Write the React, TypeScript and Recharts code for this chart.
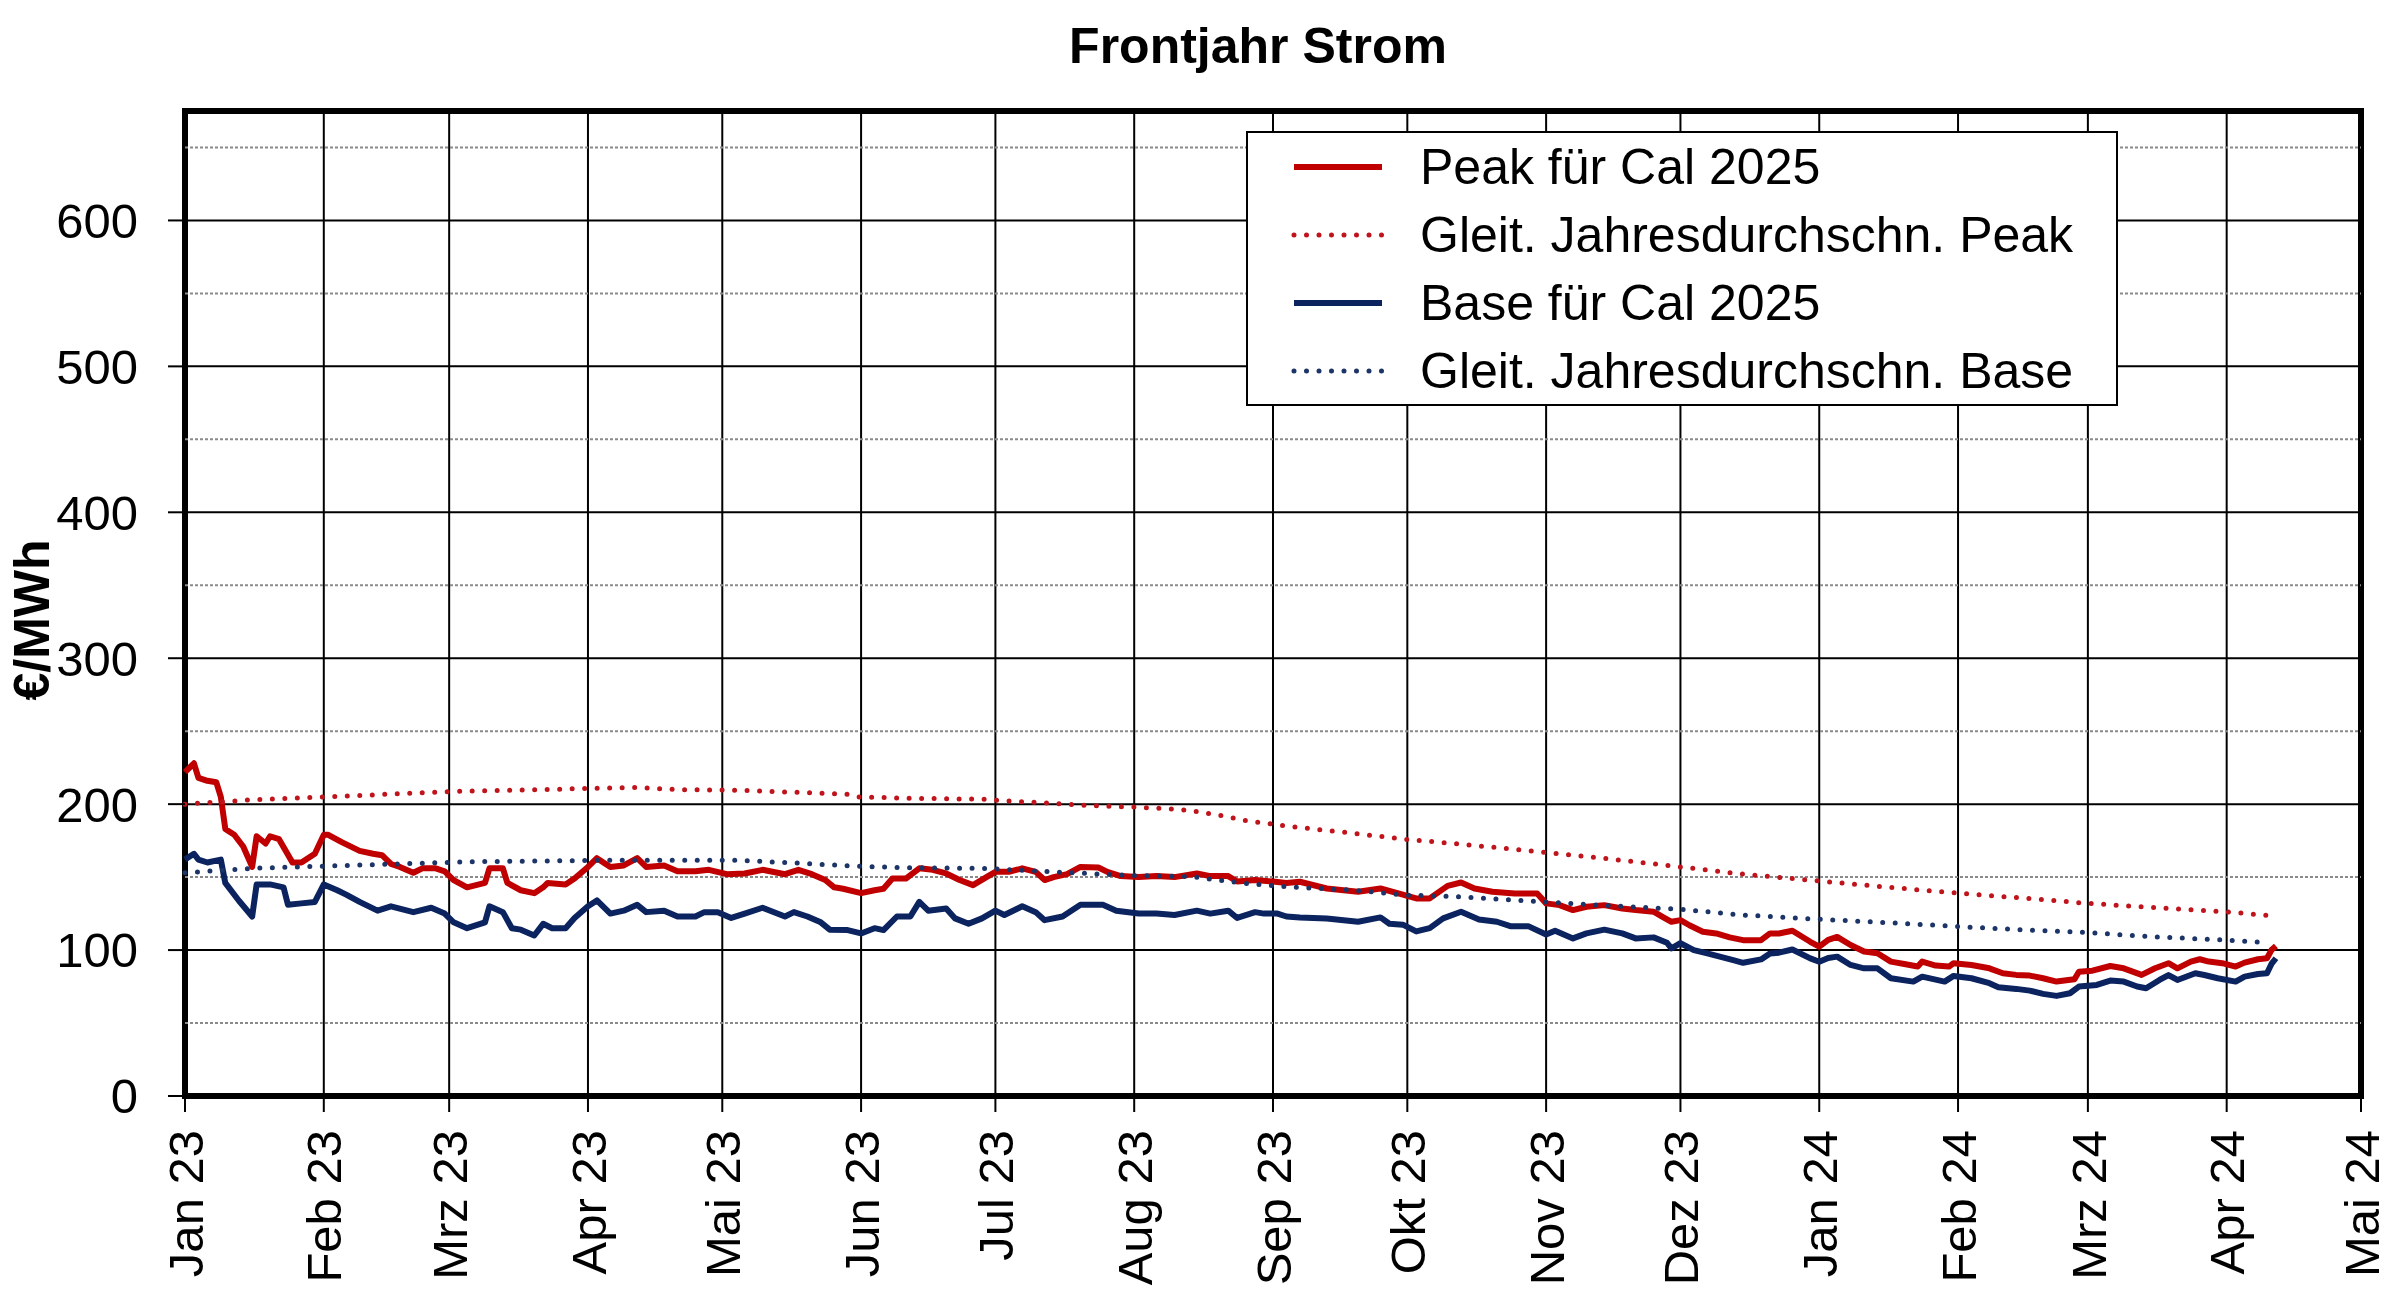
import React from 'react';
import {
  LineChart, Line, XAxis, YAxis, CartesianGrid, Legend, ReferenceLine, ReferenceArea
} from 'recharts';

// days counted from 1 Jan 2023
const MONTH_TICKS = [0, 31, 59, 90, 120, 151, 181, 212, 243, 273, 304, 334, 365, 396, 425, 456, 486];
const MONTH_LABELS = [
  'Jan 23', 'Feb 23', 'Mrz 23', 'Apr 23', 'Mai 23', 'Jun 23', 'Jul 23', 'Aug 23',
  'Sep 23', 'Okt 23', 'Nov 23', 'Dez 23', 'Jan 24', 'Feb 24', 'Mrz 24', 'Apr 24', 'Mai 24'
];
const Y_TICKS = [0, 100, 200, 300, 400, 500, 600];
const Y_MINOR = [50, 150, 250, 350, 450, 550, 650];

// [day, €/MWh]
const PEAK: [number, number][] = [
  [0, 222], [2, 228], [3, 218], [5, 216], [7, 215], [8, 205], [9, 183], [11, 179], [13, 171], [15, 157],
  [16, 178], [18, 173], [19, 178], [21, 176], [24, 160], [26, 160], [29, 166], [31, 179], [32, 179], [35, 174],
  [39, 168], [42, 166], [44, 165], [46, 159], [48, 157], [51, 153], [53, 156], [56, 156], [58, 154], [60, 148],
  [63, 143], [67, 146], [68, 156], [71, 156], [72, 146], [75, 141], [78, 139], [80, 143], [81, 146], [85, 145],
  [87, 149], [90, 157], [92, 163], [95, 157], [98, 158], [101, 163], [103, 157], [107, 158], [110, 154], [114, 154],
  [117, 155], [121, 152], [125, 152.5], [129, 155], [134, 152], [137, 155], [140, 152], [143, 148], [145, 143], [147, 142],
  [151, 139], [154, 141], [156, 142], [158, 149], [161, 149], [164, 156], [167, 155], [170, 152.5], [173, 148], [176, 144.5],
  [179, 150], [181, 153.6], [184, 153.6], [187, 156], [190, 153.6], [192, 148], [194, 150], [197, 152], [200, 157], [204, 156.6],
  [206, 153.6], [209, 150.7], [213, 150], [217, 150.7], [221, 150], [226, 152.5], [229, 150.7], [233, 150.7], [235, 147], [239, 148],
  [243, 147], [246, 146], [249, 146.8], [255, 142.2], [262, 140], [267, 142.2], [271, 138.8], [275, 135.4], [278, 135.4], [282, 144],
  [285, 146.3], [288, 142.2], [292, 140], [297, 138.8], [302, 138.8], [304, 132], [307, 130.8], [310, 127.4], [313, 129.7], [317, 130.8],
  [321, 128.5], [324, 127.4], [328, 126.3], [330, 122.8], [332, 119.4], [334, 120.5], [336, 117], [339, 112.6], [342, 111.4], [345, 108.7],
  [348, 106.8], [352, 106.8], [354, 111.4], [356, 111.4], [359, 113.2], [363, 105.7], [365, 102.3], [367, 107], [369, 109], [372, 103.5],
  [375, 99], [378, 97.8], [381, 92.1], [384, 90.5], [387, 88.7], [388, 92.1], [391, 89.4], [394, 88.7], [395, 91], [399, 89.8],
  [403, 87.5], [406, 84.1], [409, 83], [412, 82.5], [415, 80.7], [418, 78.4], [422, 80], [423, 85.2], [426, 85.9], [430, 89.1],
  [433, 87.5], [437, 83], [440, 87.5], [443, 91], [445, 87.5], [448, 92.1], [450, 93.7], [452, 92.1], [455, 91], [458, 88.7],
  [460, 91.4], [463, 93.7], [465, 94.4], [466, 100], [467, 102.8]
];

const BASE: [number, number][] = [
  [0, 162], [2, 166], [3, 162], [5, 160], [8, 162], [9, 146], [12, 134], [15, 123], [16, 145], [19, 145],
  [22, 143], [23, 131], [26, 132], [29, 133], [31, 145], [34, 141], [36, 138], [39, 133], [43, 127], [46, 130],
  [51, 126], [55, 129], [58, 125], [60, 119], [63, 115], [67, 119], [68, 130], [71, 126], [73, 115], [75, 114],
  [78, 110], [80, 118], [82, 115], [85, 115], [87, 122], [90, 130], [92, 134], [95, 125], [98, 127], [101, 131],
  [103, 126], [107, 127], [110, 123], [114, 123], [116, 126], [119, 126], [122, 122], [125, 125], [129, 129], [134, 123],
  [136, 126], [139, 123], [142, 119], [144, 114], [148, 113.7], [151, 111.4], [154, 115], [156, 113.7], [159, 123], [162, 123],
  [164, 133], [166, 127], [170, 128.5], [172, 121.7], [175, 118], [178, 121.7], [181, 127], [183, 124], [187, 130], [190, 126],
  [192, 120.5], [196, 123], [200, 131], [205, 131], [208, 127], [213, 125], [217, 125], [221, 124], [226, 127], [229, 125],
  [233, 127], [235, 122], [239, 126], [241, 125], [244, 125], [246, 123], [249, 122.4], [255, 121.7], [262, 119.4], [267, 122.4],
  [269, 118], [272, 117.4], [275, 112.8], [278, 115], [281, 121.7], [285, 126.3], [289, 121], [293, 119.4], [296, 116.4], [300, 116.4],
  [304, 110.7], [306, 113.2], [310, 108], [313, 111.4], [317, 114], [321, 111.4], [324, 108], [328, 108.7], [331, 105], [332, 101.2],
  [334, 104.7], [337, 100], [340, 97.7], [343, 95.4], [346, 93], [348, 91.3], [352, 93.6], [354, 97.7], [356, 98.2], [359, 100.4],
  [363, 94.3], [365, 92], [367, 94.6], [369, 95.5], [372, 89.8], [375, 87.5], [378, 87.5], [381, 80.7], [386, 78.4], [388, 81.8],
  [393, 78.4], [395, 82.3], [399, 80.7], [403, 77.3], [405, 74.5], [409, 73.4], [412, 72.2], [415, 70], [418, 68.6], [421, 70.4],
  [423, 75], [427, 76.1], [430, 79.1], [433, 78.4], [436, 75], [438, 73.8], [441, 79.5], [443, 82.9], [445, 79.5], [449, 84.1],
  [451, 82.9], [454, 80.7], [458, 78.4], [460, 81.8], [463, 83.6], [465, 84.1], [466, 90.5], [467, 94.4]
];

const PEAK_AVG: [number, number][] = [
  [0, 200], [15, 203], [31, 205], [47, 207], [63, 209], [79, 210], [95, 211], [101, 211.4], [110, 210], [123, 209.6],
  [134, 208.4], [148, 206.8], [150, 205], [162, 204], [178, 203.4], [181, 202.7], [194, 200.5], [205, 198.6], [212, 198], [219, 197],
  [225, 195.4], [233, 191.3], [237, 188.6], [243, 186.3], [246, 185], [261, 180], [273, 175.8], [285, 172.6], [304, 166.9], [316, 163.2],
  [334, 157], [348, 152], [368, 146.5], [383, 142.4], [396, 139], [411, 135.5], [425, 132], [439, 129.3], [455, 126.4], [466, 123.6]
];

const BASE_AVG: [number, number][] = [
  [0, 153], [15, 156], [31, 157.5], [47, 159], [63, 160.5], [79, 161], [95, 161.6], [123, 161.6], [138, 159.4], [150, 157.5],
  [162, 156.4], [178, 156], [194, 153.6], [209, 151.4], [225, 150.2], [237, 145.7], [246, 143.4], [261, 141], [273, 137.6], [285, 136.5],
  [304, 133], [316, 130.8], [334, 127.9], [348, 124], [368, 120.6], [383, 118.4], [396, 116.1], [411, 113.8], [425, 112], [439, 109.2],
  [455, 107], [465, 105.1]
];

const toRows = (pts: [number, number][]) => pts.map(([day, value]) => ({ day, value }));

const SERIES = [
  { name: 'Peak für Cal 2025', color: '#c00000', dotted: false, data: toRows(PEAK) },
  { name: 'Gleit. Jahresdurchschn. Peak', color: '#c0141c', dotted: true, data: toRows(PEAK_AVG) },
  { name: 'Base für Cal 2025', color: '#0b235e', dotted: false, data: toRows(BASE) },
  { name: 'Gleit. Jahresdurchschn. Base', color: '#1c3467', dotted: true, data: toRows(BASE_AVG) },
];

const FONT = '"Liberation Sans", Arial, sans-serif';
const DOTS = '0 12.5';

if (typeof document !== 'undefined') document.body.style.margin = '0';

const MonthTick = (props: any) => {
  const { x, y, payload } = props;
  const label = MONTH_LABELS[MONTH_TICKS.indexOf(payload.value)];
  return (
    <text x={x} y={y} transform={`rotate(-90, ${x}, ${y})`} textAnchor="end" dy="0.36em"
      fontSize={49} fill="#000">{label}</text>
  );
};

// legend keeps the series order (Recharts would sort it by name)
const LegendBox = () => (
  <div style={{ border: '2px solid #000', background: '#fff', height: 271, boxSizing: 'content-box' }}>
    {SERIES.map(s => (
      <div key={s.name} style={{ height: 68, display: 'flex', alignItems: 'center' }}>
        <svg width={94} height={12} style={{ marginLeft: 43, marginRight: 35 }}>
          <line x1={3} y1={6} x2={91} y2={6} stroke={s.color} strokeWidth={s.dotted ? 5 : 6}
            strokeDasharray={s.dotted ? DOTS : undefined} strokeLinecap={s.dotted ? 'round' : 'butt'} />
        </svg>
        <span style={{ fontSize: 50, lineHeight: '50px', color: '#000', whiteSpace: 'nowrap' }}>{s.name}</span>
      </div>
    ))}
  </div>
);

export default function App() {
  return (
    <div style={{ position: 'relative', width: 2400, height: 1299, background: '#fff', fontFamily: FONT }}>
      <div style={{ position: 'absolute', left: 1258, top: 21, transform: 'translateX(-50%)', fontSize: 50,
        lineHeight: '50px', fontWeight: 'bold', whiteSpace: 'nowrap' }}>Frontjahr Strom</div>
      <div style={{ position: 'absolute', left: 32, top: 620, transform: 'translate(-50%, -50%) rotate(-90deg)',
        fontSize: 50, lineHeight: '50px', fontWeight: 'bold', whiteSpace: 'nowrap' }}>€/MWh</div>
      <LineChart width={2400} height={1299} margin={{ top: 111, right: 39, bottom: 0, left: 0 }}>
        <CartesianGrid stroke="#000" strokeWidth={2} />
        {Y_MINOR.map(v => (
          <ReferenceLine key={v} y={v} stroke="#8a8a8a" strokeWidth={2} strokeDasharray="3 2" />
        ))}
        <XAxis type="number" dataKey="day" domain={[0, 486]} ticks={MONTH_TICKS} interval={0}
          height={203} tickSize={16} tickMargin={18} axisLine={false}
          tickLine={{ stroke: '#000', strokeWidth: 2 }} tick={<MonthTick />} />
        <YAxis type="number" domain={[0, 675]} ticks={Y_TICKS} interval={0} width={185}
          tickSize={17} tickMargin={30} axisLine={false}
          tickLine={{ stroke: '#000', strokeWidth: 2 }} tick={{ fill: '#000', fontSize: 49 }} />
        <ReferenceArea x1={0} x2={486} y1={0} y2={675} fill="none" fillOpacity={0} stroke="#000" strokeWidth={6} />
        {SERIES.map(s => (
          <Line key={s.name} name={s.name} data={s.data} dataKey="value" type="linear" stroke={s.color}
            strokeWidth={s.dotted ? 5 : 6} strokeDasharray={s.dotted ? DOTS : undefined}
            strokeLinecap={s.dotted ? 'round' : 'butt'} strokeLinejoin="round"
            dot={false} activeDot={false} isAnimationActive={false} />
        ))}
        <Legend layout="vertical" align="center" verticalAlign="middle" content={<LegendBox />}
          wrapperStyle={{ position: 'absolute', left: 1246, top: 131, width: 872, height: 275 }} />
      </LineChart>
    </div>
  );
}
